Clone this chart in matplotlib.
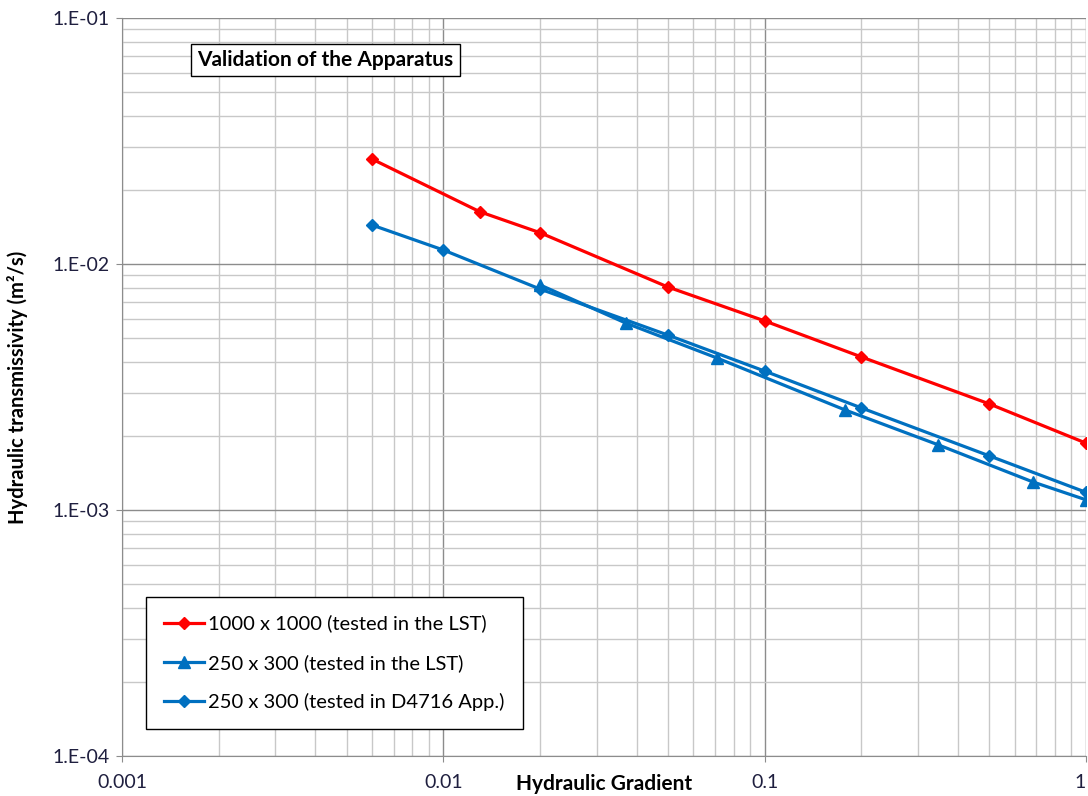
import numpy as np
import matplotlib.pyplot as plt
from matplotlib.ticker import LogLocator, FixedLocator, NullFormatter

plt.rcParams['font.family'] = ['Lato', 'DejaVu Sans']

# data
gradient_1000 = [0.006, 0.013, 0.02, 0.05, 0.1, 0.2, 0.5, 1.0]
trans_1000 = [0.0267, 0.0163, 0.0134, 0.00806, 0.00587, 0.00419, 0.00270, 0.00187]

gradient_250_lst = [0.02, 0.037, 0.071, 0.178, 0.347, 0.684, 1.0]
trans_250_lst = [0.00822, 0.00575, 0.00415, 0.00255, 0.00184, 0.00130, 0.00110]

gradient_250_d4716 = [0.006, 0.01, 0.02, 0.05, 0.1, 0.2, 0.5, 1.0]
trans_250_d4716 = [0.0144, 0.0114, 0.00791, 0.00514, 0.00367, 0.00260, 0.00166, 0.00118]

labels = ['1000 x 1000 (tested in the LST)',
          '250 x 300 (tested in the LST)',
          '250 x 300 (tested in D4716 App.)']

red = '#FF0000'
blue = '#0070C0'

fig = plt.figure(figsize=(10.88, 7.96), dpi=100)
ax = fig.add_axes([122 / 1088, 1 - 756 / 796, (1086 - 122) / 1088, (756 - 18) / 796])

ax.set_xscale('log')
ax.set_yscale('log')
ax.set_xlim(0.001, 1)
ax.set_ylim(1e-4, 1e-1)

ax.plot(gradient_1000, trans_1000, color=red, lw=2.3, marker='D', ms=6, label=labels[0], zorder=5)
ax.plot(gradient_250_lst, trans_250_lst, color=blue, lw=2.3, marker='^', ms=8, label=labels[1], zorder=4)
ax.plot(gradient_250_d4716, trans_250_d4716, color=blue, lw=2.3, marker='D', ms=6, label=labels[2], zorder=4)

# grid
ax.xaxis.set_major_locator(FixedLocator([0.001, 0.01, 0.1, 1]))
ax.yaxis.set_major_locator(FixedLocator([1e-4, 1e-3, 1e-2, 1e-1]))
ax.xaxis.set_minor_locator(LogLocator(base=10, subs=np.arange(2, 10)))
ax.yaxis.set_minor_locator(LogLocator(base=10, subs=np.arange(2, 10)))
ax.xaxis.set_minor_formatter(NullFormatter())
ax.yaxis.set_minor_formatter(NullFormatter())
ax.grid(which='major', color='#8c8c8c', lw=1.0)
ax.grid(which='minor', color='#c8c8c8', lw=1.0)
ax.set_axisbelow(True)

ax.set_xticks([0.001, 0.01, 0.1, 1])
ax.set_xticklabels(['0.001', '0.01', '0.1', '1'])
ax.set_yticks([1e-4, 1e-3, 1e-2, 1e-1])
ax.set_yticklabels(['1.E-04', '1.E-03', '1.E-02', '1.E-01'])
ax.tick_params(which='major', length=4, color='#8c8c8c', labelsize=14, labelcolor='#1f1f3f')
ax.tick_params(axis='x', pad=9)
ax.tick_params(axis='y', pad=5)
ax.tick_params(which='minor', length=0)
# last x label sits at the right edge of the figure
ax.get_xticklabels()[-1].set_ha('right')

for s in ['top', 'right']:
    ax.spines[s].set_visible(False)
for s in ['left', 'bottom']:
    ax.spines[s].set_color('#8c8c8c')

ax.set_xlabel('Hydraulic Gradient', fontsize=15, fontweight='bold')
ax.xaxis.set_label_coords(0.5, -0.038)
ax.xaxis.label.set_va('center')
ax.set_ylabel('Hydraulic transmissivity (m\u00b2/s)', fontsize=14.5, fontweight='bold')
ax.yaxis.set_label_coords(-0.108, 0.5)
ax.yaxis.label.set_va('center')

ax.text(0.078, 0.943, 'Validation of the Apparatus', transform=ax.transAxes,
        fontsize=15, fontweight='bold', va='center', ha='left',
        bbox=dict(boxstyle='square,pad=0.3', fc='white', ec='black', lw=1.0))

leg = ax.legend(loc='lower left', bbox_to_anchor=(24 / 964, 27 / 738), fontsize=14.5,
                frameon=True, fancybox=False, edgecolor='black', framealpha=1,
                borderpad=0.9, labelspacing=1.05, handlelength=2.0, handletextpad=0.2,
                borderaxespad=0)
leg.get_frame().set_linewidth(1.0)

fig.savefig('out.png', dpi=100)
